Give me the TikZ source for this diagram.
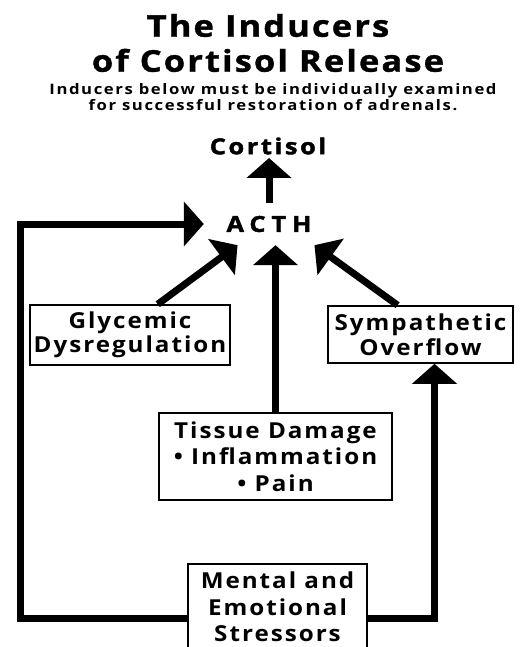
\documentclass[tikz,border=0pt]{standalone}
\usepackage{fontspec}
\setmainfont{Open Sans}
\usetikzlibrary{arrows.meta, positioning}

\begin{document}
\begin{tikzpicture}[x=1pt, y=-1pt,
    box/.style={draw, line width=1.6pt, align=center, inner sep=0pt,
                font=\bfseries\fontsize{22}{26.5}\selectfont\addfontfeatures{FakeStretch=1.1, LetterSpace=9}},
    pair/.style={box, font=\bfseries\fontsize{22}{24.5}\selectfont\addfontfeatures{FakeStretch=1.1, LetterSpace=9}},
    head/.style={font=\bfseries\fontsize{22}{24}\selectfont\addfontfeatures{FakeStretch=1.15, LetterSpace=12, FakeBold=2}},
    arr/.style={line width=7pt, -{Triangle[width=44pt, length=20pt]}}]
    \useasboundingbox (0,0) rectangle (526,647);
    \node[align=center, font=\bfseries\fontsize{30}{35}\selectfont\addfontfeatures{FakeStretch=1.15, LetterSpace=7, FakeBold=1.2}] (title) at (268,43)
        {The Inducers\\of Cortisol Release};
    \node[align=center, font=\bfseries\fontsize{14.5}{15.5}\selectfont\addfontfeatures{FakeStretch=1.15, LetterSpace=11}] (sub) at (273,97)
        {Inducers below must be individually examined\\for successful restoration of adrenals.};
    \node[head] (cortisol) at (268,146) {Cortisol};
    \node[head, inner sep=0pt, minimum width=130pt, minimum height=42pt,
          font=\bfseries\fontsize{22}{24}\selectfont\addfontfeatures{FakeStretch=1.15, LetterSpace=27, FakeBold=2}] (acth) at (269,224) {ACTH};
    \node[pair, minimum width=200pt, minimum height=60pt] (glyc) at (130,335) {Glycemic\\Dysregulation};
    \node[pair, minimum width=185pt, minimum height=57pt] (symp) at (420.5,334.5) {Sympathetic\\Overflow};
    \node[box, minimum width=233pt, minimum height=87pt] (tissue) at (275.5,456.5)
        {Tissue Damage\\\textbullet\ Inflammation\\\textbullet\ Pain};
    \node[box, minimum width=179pt, minimum height=86pt] (mental) at (277.5,607)
        {Mental and\\Emotional\\Stressors};
    \coordinate (loopL) at (20,224);
    \draw[arr] (acth.north) -- (acth.north |- cortisol.south);
    \draw[arr] (glyc.48) -- (acth.214);
    \draw[arr] (symp.128) -- (acth.335);
    \draw[arr] (tissue.north) -- (tissue.north |- acth.south);
    \draw[arr] ([yshift=-11pt]mental.west) -| (loopL) -- (acth.west);
    \draw[arr] ([yshift=-11pt]mental.east) -| ([xshift=14pt]symp.south);
\end{tikzpicture}
\end{document}
